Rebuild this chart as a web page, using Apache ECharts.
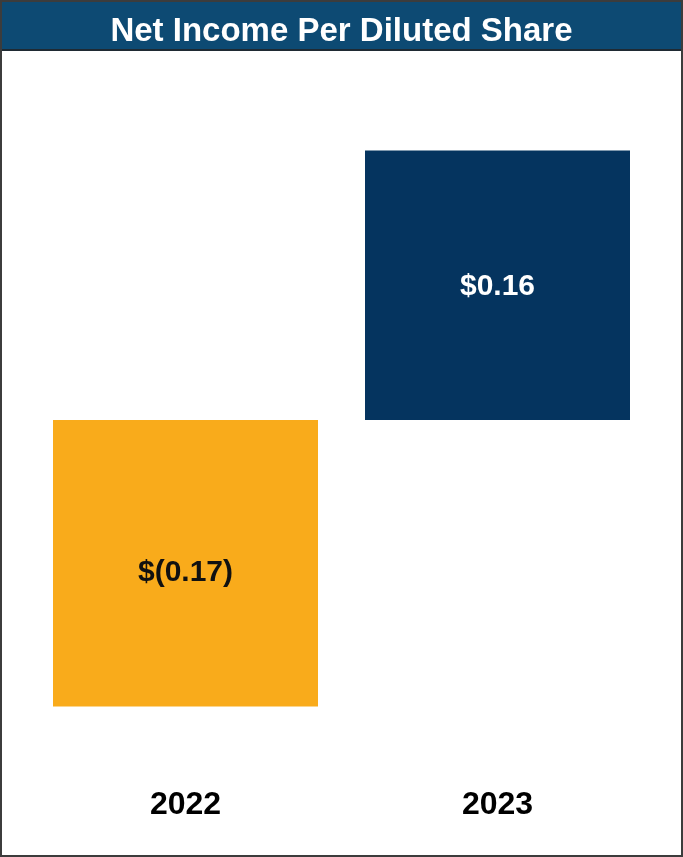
<!DOCTYPE html>
<html>
<head>
<meta charset="utf-8">
<title>Net Income Per Diluted Share</title>
<script src="https://cdn.jsdelivr.net/npm/echarts@6/dist/echarts.min.js"></script>
<style>
  html, body { margin: 0; padding: 0; background: #ffffff; }
  #chart { width: 683px; height: 857px; }
</style>
</head>
<body>
<div id="chart"></div>
<script>
// Fiscal years and diluted EPS (USD)
const categories = ['2022', '2023'];
const epsValues = [-0.17, 0.16];

// Styling per bar
const barColors = ['#f9ab1b', '#05345f'];
const labelColors = ['#111111', '#ffffff'];
const labelOffsets = [[0, 10], [0, 2]];

function formatEps(v) {
  const s = Math.abs(v).toFixed(2);
  return v < 0 ? '$(' + s + ')' : '$' + s;
}

const chart = echarts.init(document.getElementById('chart'), null, { renderer: 'canvas' });

chart.setOption({
  animation: false,
  backgroundColor: '#ffffff',
  title: {
    text: 'Net Income Per Diluted Share',
    left: 'center',
    top: 10,
    textStyle: {
      color: '#ffffff',
      fontFamily: 'Liberation Sans, Arial, sans-serif',
      fontWeight: 'bold',
      fontSize: 33,
      lineHeight: 34
    }
  },
  graphic: [
    {
      type: 'rect',
      z: -1,
      shape: { x: 1, y: 1, width: 681, height: 49 },
      style: { fill: '#0d4a73' }
    },
    {
      type: 'line',
      z: 0,
      shape: { x1: 1, y1: 50, x2: 682, y2: 50 },
      style: { stroke: '#1f2a33', lineWidth: 2 }
    },
    {
      type: 'rect',
      z: 0,
      shape: { x: 1, y: 1, width: 681, height: 855 },
      style: { fill: null, stroke: '#3c3c3c', lineWidth: 2 }
    }
  ],
  grid: { left: 29.5, right: 29.5, top: 83, bottom: 100 },
  xAxis: {
    type: 'category',
    data: categories,
    position: 'bottom',
    axisLine: { show: false, onZero: false },
    axisTick: { show: false },
    axisLabel: {
      margin: 32,
      color: '#000000',
      fontFamily: 'Liberation Sans, Arial, sans-serif',
      fontWeight: 'bold',
      fontSize: 32,
      lineHeight: 32
    }
  },
  yAxis: {
    type: 'value',
    min: -0.2,
    max: 0.2,
    show: false,
    splitLine: { show: false }
  },
  series: [
    {
      type: 'bar',
      barWidth: 265,
      data: epsValues.map((v, i) => ({
        value: v,
        itemStyle: { color: barColors[i] },
        label: { color: labelColors[i], offset: labelOffsets[i] }
      })),
      label: {
        show: true,
        position: 'inside',
        fontFamily: 'Liberation Sans, Arial, sans-serif',
        fontWeight: 'bold',
        fontSize: 30,
        formatter: p => formatEps(p.value)
      }
    }
  ]
});
</script>
</body>
</html>
